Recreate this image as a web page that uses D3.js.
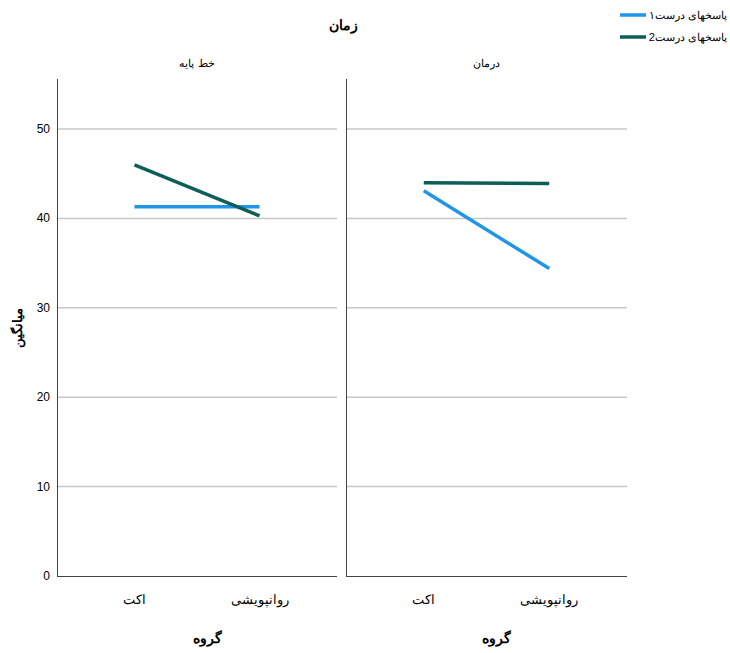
<!DOCTYPE html>
<html><head><meta charset="utf-8">
<script src="https://cdn.jsdelivr.net/npm/d3@7"></script>
<style>body{margin:0;background:#fff;font-family:"Liberation Sans",Arial,sans-serif}</style>
</head><body>
<script>
const panels = ["خط پایه", "درمان"];
const groups = ["اکت", "روانپویشی"];
const seriesNames = ["پاسخهای درست۱", "پاسخهای درست2"];
const colors = ["#1f96e8", "#0e5e58"];
// values[panel][series][group]
const values = [
  [[41.3, 41.3], [46.0, 40.3]],
  [[43.1, 34.4], [44.0, 43.9]]
];
const yTicks = [0, 10, 20, 30, 40, 50];

const svg = d3.select("body").append("svg").attr("width", 730).attr("height", 653);
const y = d3.scaleLinear().domain([0, 55.6]).range([576, 79]);
const panelX = [[57, 337], [346, 627]];

svg.append("text").attr("x", 343).attr("y", 30).attr("text-anchor", "middle")
  .attr("font-size", 14).attr("font-weight", "bold").text("زمان");
svg.append("text").attr("transform", "translate(22,328) rotate(-90)").attr("text-anchor", "middle")
  .attr("font-size", 13).attr("font-weight", "bold").text("میانگین");

panels.forEach((p, i) => {
  const [x0, x1] = panelX[i];
  const x = d3.scalePoint().domain(groups).range([x0, x1]).padding(0.62);
  const g = svg.append("g");
  yTicks.slice(1).forEach(t => g.append("line").attr("x1", x0).attr("x2", x1)
    .attr("y1", y(t)).attr("y2", y(t)).attr("stroke", "#c8c8c8").attr("stroke-width", 1.5));
  g.append("line").attr("x1", x0 + 0.5).attr("x2", x0 + 0.5).attr("y1", 79).attr("y2", 576).attr("stroke", "#444");
  g.append("line").attr("x1", x0).attr("x2", x1).attr("y1", 576.5).attr("y2", 576.5).attr("stroke", "#444");
  g.append("text").attr("x", (x0 + x1) / 2).attr("y", 67).attr("text-anchor", "middle")
    .attr("font-size", 11).text(p);
  groups.forEach(gr => g.append("text").attr("x", x(gr)).attr("y", 604).attr("text-anchor", "middle")
    .attr("font-size", 13).text(gr));
  g.append("text").attr("x", (x0 + x1) / 2 + 10).attr("y", 643).attr("text-anchor", "middle")
    .attr("font-size", 14).attr("font-weight", "bold").text("گروه");
  values[i].forEach((s, k) => g.append("path").datum(s)
    .attr("d", d3.line().x((d, j) => x(groups[j])).y(d => y(d)))
    .attr("fill", "none").attr("stroke", colors[k]).attr("stroke-width", 3.5));
});
yTicks.forEach(t => svg.append("text").attr("x", 50).attr("y", y(t) + 4).attr("text-anchor", "end")
  .attr("font-size", 12).text(t));

seriesNames.forEach((n, k) => {
  const yy = 15 + k * 22;
  svg.append("line").attr("x1", 620).attr("x2", 646).attr("y1", yy).attr("y2", yy)
    .attr("stroke", colors[k]).attr("stroke-width", 3.5);
  svg.append("text").attr("x", 727).attr("y", yy + 4).attr("font-size", 11)
    .attr("text-anchor", "end").text(n);
});
</script>
</body></html>
